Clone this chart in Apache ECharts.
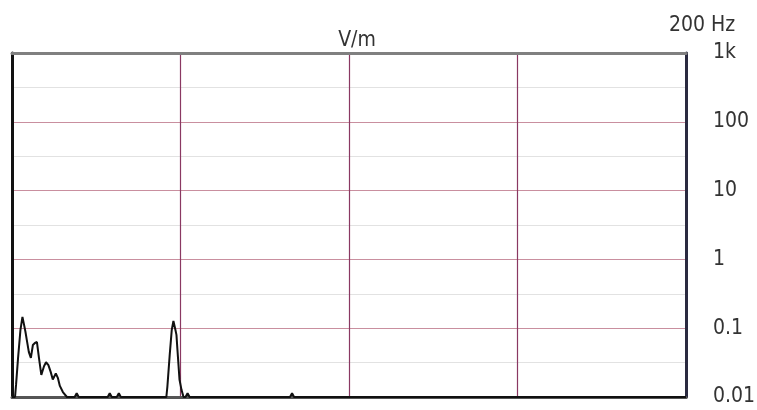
<!DOCTYPE html>
<html>
<head>
<meta charset="utf-8">
<script src="https://cdn.jsdelivr.net/npm/echarts@6/dist/echarts.min.js"></script>
<style>
html,body{margin:0;padding:0;background:#fff;}
#chart{width:757px;height:410px;}
</style>
</head>
<body>
<div id="chart"></div>
<script>
// Frequency (Hz) of each spectrum point
const freqs = [0, 0.9, 1.2, 1.8, 2.5, 3.1, 3.6, 4.0, 4.4, 5.0, 5.6, 6.2, 6.8, 7.4, 8.0, 8.7, 9.5, 10.1, 10.8, 11.5, 12.1, 13.0, 13.6, 14.2, 15.1, 16.3,
  18.6, 19.2, 19.8, 28.4, 29.0, 29.6, 31.1, 31.7, 32.3,
  45.8, 46.1, 46.8, 47.4, 47.9, 48.5, 48.8, 49.1, 49.7, 50.3, 50.9, 51.5, 52.1, 52.7,
  82.5, 83.1, 83.7, 200];
// Field strength (V/m) at each frequency
const values = [0.01, 0.01, 0.015, 0.037, 0.094, 0.146, 0.111, 0.088, 0.067, 0.045, 0.037, 0.057, 0.061, 0.063, 0.037, 0.021, 0.028, 0.032, 0.029, 0.023, 0.018, 0.022, 0.019, 0.0145, 0.0118, 0.01,
  0.01, 0.0114, 0.01, 0.01, 0.0114, 0.01, 0.01, 0.0114, 0.01,
  0.01, 0.014, 0.041, 0.094, 0.127, 0.094, 0.080, 0.048, 0.018, 0.0127, 0.01, 0.01, 0.0114, 0.01,
  0.01, 0.0114, 0.01, 0.01];
const yTickLabels = {0.01: '0.01', 0.1: '0.1', 1: '1', 10: '10', 100: '100', 1000: '1k'};
const titleText = 'V/m';
const freqLabel = '200 Hz';

const FONT = '"Liberation Sans Narrow", "DejaVu Sans Condensed", "Liberation Sans", Arial, sans-serif';
const chart = echarts.init(document.getElementById('chart'), null, {renderer: 'canvas'});
const seriesData = freqs.map((f, i) => [f, values[i]]);

chart.setOption({
  animation: false,
  backgroundColor: '#fff',
  title: [
    {text: titleText, left: 352, top: 25, textAlign: 'center',
     textStyle: {fontFamily: FONT, fontSize: 21, fontWeight: 'normal', color: '#333'}},
    {text: freqLabel, left: 664, top: 10,
     textStyle: {fontFamily: FONT, fontSize: 21, fontWeight: 'normal', color: '#333'}}
  ],
  grid: {left: 12, right: 71, top: 53, bottom: 13, containLabel: false, outerBoundsMode: 'none'},
  xAxis: [
    {type: 'value', min: 0, max: 200, interval: 50, position: 'bottom',
     axisLine: {show: true, onZero: false, lineStyle: {color: '#555', width: 3}},
     axisTick: {show: false}, axisLabel: {show: false},
     splitLine: {show: true, showMaxLine: false, lineStyle: {color: '#8a3862', width: 1.2}}},
    {type: 'value', min: 0, max: 200, position: 'top',
     axisLine: {show: true, onZero: false, lineStyle: {color: '#808080', width: 3}},
     axisTick: {show: false}, axisLabel: {show: false}, splitLine: {show: false}}
  ],
  yAxis: [
    {type: 'log', logBase: 10, min: 0.01, max: 1000, position: 'right',
     axisLine: {show: true, onZero: false, lineStyle: {color: '#2a2a40', width: 3}},
     axisTick: {show: false},
     axisLabel: {show: true, margin: 27, fontFamily: FONT, fontSize: 21, color: '#333',
       formatter: v => {
         const k = Number(Number(v).toPrecision(2));
         return yTickLabels[k] !== undefined ? yTickLabels[k] : '';
       }},
     splitLine: {show: true, lineStyle: {color: '#c98f9f', width: 1}}},
    {type: 'value', min: 0, max: 10, interval: 1, position: 'left',
     axisLine: {show: true, onZero: false, lineStyle: {color: '#111', width: 3}},
     axisTick: {show: false}, axisLabel: {show: false},
     splitLine: {show: true, lineStyle: {color: ['rgba(0,0,0,0)', '#e2e2e2'], width: 1}}}
  ],
  series: [{
    type: 'line', xAxisIndex: 0, yAxisIndex: 0, data: seriesData,
    showSymbol: false, symbol: 'none', clip: true,
    lineStyle: {color: '#111', width: 2}, z: 5
  }]
});
</script>
</body>
</html>
